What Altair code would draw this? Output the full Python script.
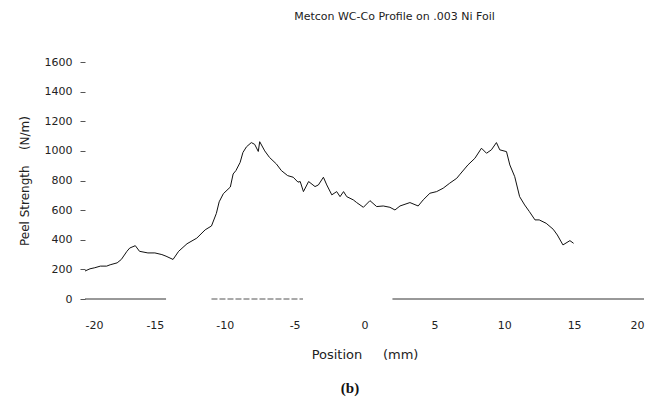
import altair as alt
import pandas as pd

# Peel strength profile (position in mm, strength in N/m)
pos_left = [-20.0, -19.64, -19.3, -18.9, -18.45, -18.2, -17.7, -17.4, -17.0, -16.8,
            -16.4, -16.1, -15.5, -15.0, -14.5, -14.2, -13.7, -13.3, -12.7, -12.0,
            -11.4, -10.95, -10.6, -10.4, -10.1, -9.6, -9.4, -9.2, -8.9, -8.7,
            -8.45, -8.1, -7.86, -7.6, -7.5, -7.14, -6.8, -6.3, -5.95, -5.5,
            -5.1, -4.76]
val_left = [189, 204, 211, 222, 222, 231, 244, 267, 322, 344,
            360, 322, 311, 311, 300, 289, 267, 322, 373, 411,
            467, 493, 578, 656, 711, 756, 844, 867, 922, 989,
            1027, 1056, 1044, 996, 1062, 1000, 956, 911, 867, 833,
            822, 789]
pos_right = [-4.6, -4.37, -4.0, -3.54, -3.3, -2.94, -2.7, -2.34, -1.99, -1.75,
             -1.5, -1.27, -0.8, -0.56, -0.08, 0.39, 0.87, 1.34, 1.82, 2.18,
             2.54, 3.25, 3.84, 4.2, 4.68, 5.16, 5.63, 6.1, 6.6, 6.8,
             7.4, 7.9, 8.37, 8.73, 9.08, 9.44, 9.68, 10.16, 10.4, 10.75,
             11.1, 11.46, 11.8, 12.2, 12.5, 13.0, 13.5, 13.8, 14.2, 14.7,
             14.96]
val_right = [793, 725, 793, 759, 770, 822, 770, 703, 725, 691,
             725, 691, 669, 651, 619, 664, 624, 628, 619, 601,
             628, 651, 628, 669, 714, 725, 748, 782, 815, 838,
             905, 950, 1018, 984, 1007, 1056, 1007, 995, 905, 826,
             691, 635, 590, 534, 534, 511, 471, 432, 365, 394,
             376]

# broken zero baseline segments (start, end)
zero_solid_starts = [-20.0, 2.0]
zero_solid_ends = [-14.2, 20.0]
zero_dash_starts = [-10.95]
zero_dash_ends = [-4.4]

x_ticks = [-20, -15, -10, -5, 0, 5, 10, 15, 20]
y_ticks = [0, 200, 400, 600, 800, 1000, 1200, 1400, 1600]

FONT = "DejaVu Sans"

profile = pd.DataFrame({"pos": pos_left + pos_right, "val": val_left + val_right})

def seg_df(starts, ends):
    rows = []
    for i, (a, b) in enumerate(zip(starts, ends)):
        rows.append({"pos": a, "val": 0, "seg": i})
        rows.append({"pos": b, "val": 0, "seg": i})
    return pd.DataFrame(rows)

zs = seg_df(zero_solid_starts, zero_solid_ends)
zd = seg_df(zero_dash_starts, zero_dash_ends)

xscale = alt.Scale(domain=[-20, 20], nice=False, zero=False)
yscale = alt.Scale(domain=[0, 1600], nice=False)

NB = "\u00a0"
xaxis = alt.Axis(values=x_ticks, ticks=False, tickSize=0, domain=False, grid=False,
                 labelPadding=20, labelFontSize=11, labelFont=FONT, labelColor="#222",
                 labelOverlap=False,
                 labelExpr="datum.value < 0 ? '-' + abs(datum.value) : '' + datum.value",
                 title="Position" + NB * 5 + "(mm)", titleFont=FONT, titleFontSize=13,
                 titleFontWeight="normal", titleColor="#222", titlePadding=18)
yaxis = alt.Axis(values=y_ticks, ticks=True, tickSize=5, tickColor="#555", domain=False,
                 grid=False, labelPadding=8, labelFontSize=11, labelFont=FONT,
                 labelColor="#222", labelOverlap=False, labelExpr="'' + datum.value",
                 title="Peel Strength" + NB * 4 + "(N/m)",
                 titleFont=FONT, titleFontSize=12, titleFontWeight="normal",
                 titleColor="#222", titlePadding=13)

X = alt.X("pos:Q", scale=xscale, axis=xaxis)
Y = alt.Y("val:Q", scale=yscale, axis=yaxis)

line = alt.Chart(profile).mark_line(color="#111", strokeWidth=1).encode(x=X, y=Y)

zero_solid = alt.Chart(zs).mark_line(color="#333", strokeWidth=1).encode(
    x=X, y=Y, detail="seg:N"
)
zero_dash = alt.Chart(zd).mark_line(color="#555", strokeWidth=1, strokeDash=[6, 2]).encode(
    x=X, y=Y, detail="seg:N"
)

label_b = alt.Chart(pd.DataFrame({"t": ["(b)"]})).mark_text(
    font="Liberation Serif", fontSize=15, fontWeight="bold", color="#111",
    baseline="middle", align="center"
).encode(text="t:N", x=alt.value(265), y=alt.value(326))

chart = alt.layer(line, zero_solid, zero_dash, label_b).properties(
    width=559, height=237,
    title=alt.TitleParams("Metcon WC-Co Profile on .003 Ni Foil", font=FONT, fontSize=11,
                          fontWeight="normal", color="#222", anchor="middle", dx=30,
                          offset=34),
    padding={"left": 85, "top": 62, "right": 8, "bottom": 103},
    autosize=alt.AutoSizeParams(type="none"),
).configure_view(stroke=None)

chart.save("out.html", embed_options={"renderer": "svg", "actions": False})
